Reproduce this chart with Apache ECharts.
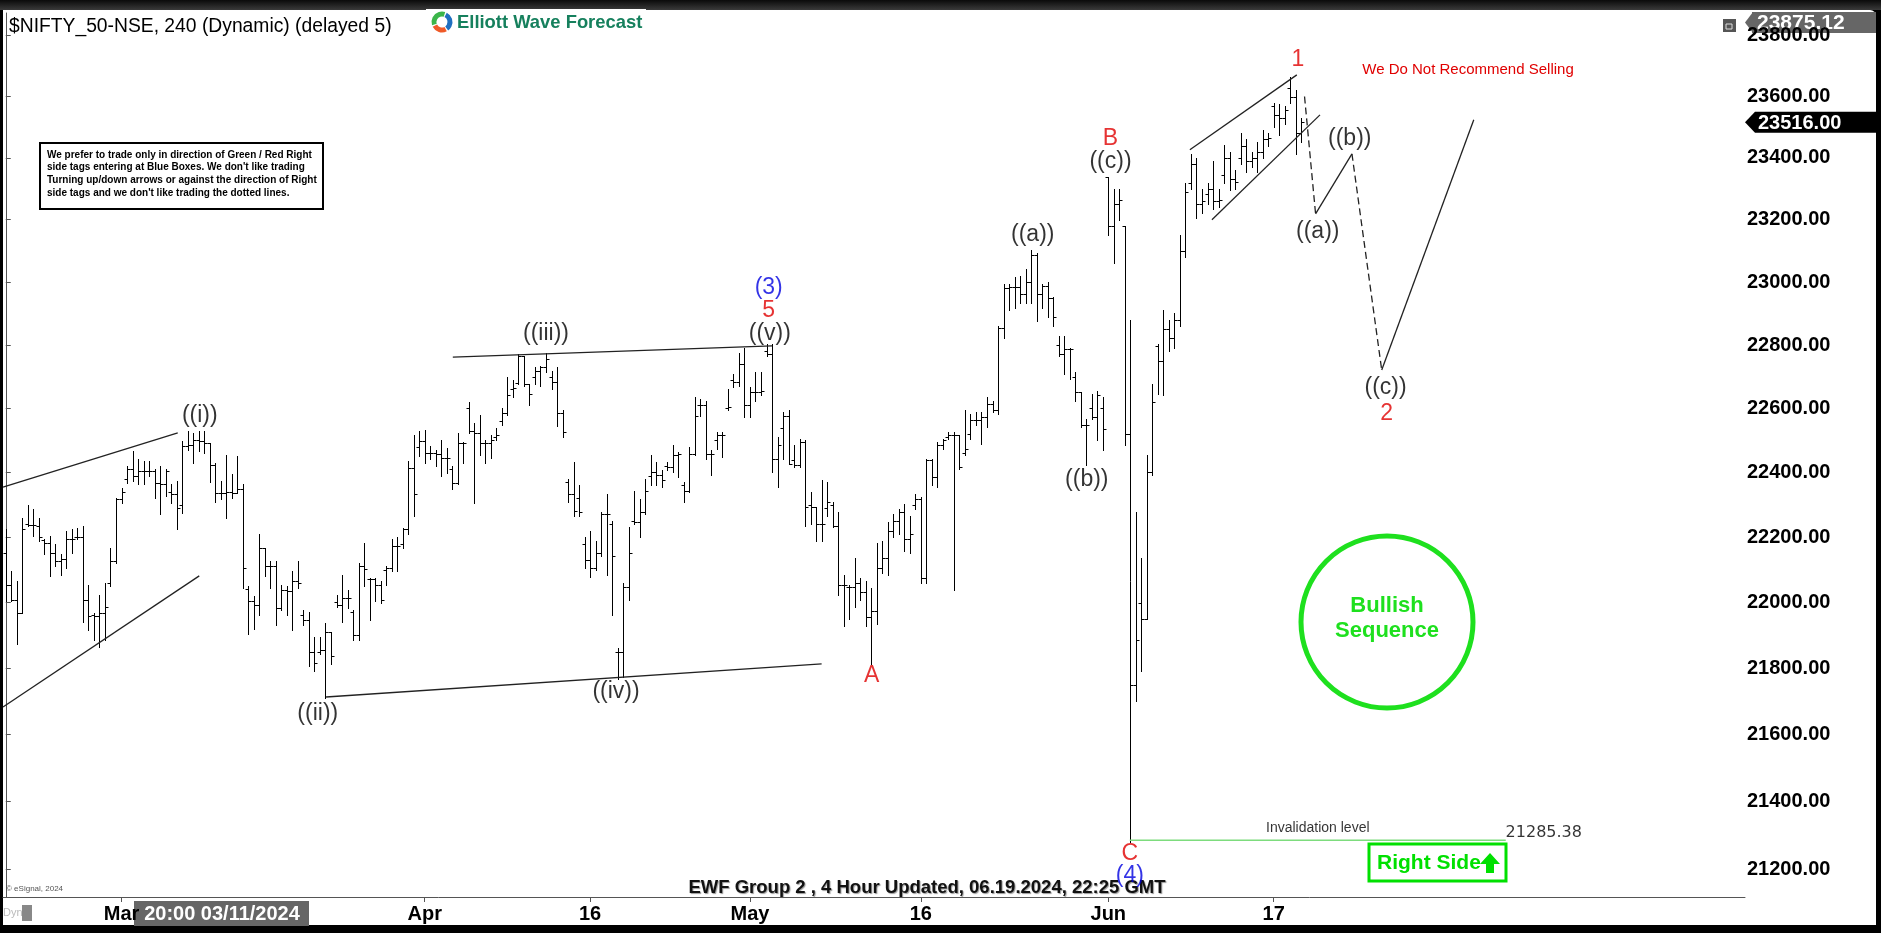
<!DOCTYPE html>
<html><head><meta charset="utf-8">
<script src="https://cdn.jsdelivr.net/npm/echarts@6/dist/echarts.min.js"></script>
<style>html,body{margin:0;padding:0;background:#000;overflow:hidden}#c{width:1881px;height:933px}</style>
</head><body><div id="c"></div>
<script>
// ---- 4-hour OHLC bars of $NIFTY_50-NSE ----
const barOpen = [22150,22054,22008,21967,22240,22237,22235,22190,22183,22150,22126,22134,22195,22200,22202,22008,21960,21957,21967,22060,
22126,22317,22380,22410,22389,22405,22405,22405,22369,22365,22340,22332,22300,22482,22487,22502,22497,22492,22425,22338,
22338,22340,22338,22348,22040,22003,21993,22168,22111,22111,21982,22039,22034,22065,21960,21946,21848,21850,21854,21910,
22000,21993,22013,21970,21900,22111,22070,22070,22054,22100,22106,22173,22180,22224,22415,22480,22497,22461,22461,22459,
22446,22410,22369,22492,22600,22528,22523,22492,22492,22510,22560,22585,22660,22680,22765,22678,22700,22719,22729,22700,
22683,22585,22370,22334,22320,22180,22131,22105,22152,22272,22240,21850,21850,22048,22250,22246,22277,22390,22402,22391,
22420,22417,22454,22360,22344,22459,22610,22612,22459,22500,22518,22600,22690,22684,22740,22610,22651,22651,22780,22771,
22443,22540,22578,22440,22422,22495,22300,22292,22240,22290,22300,22235,22053,22048,22048,22058,22032,21954,21975,22105,
22136,22220,22251,22277,22194,22300,22318,22074,22438,22386,22485,22510,22516,22516,22460,22520,22563,22563,22573,22615,
22594,22854,22980,22984,22984,22963,23000,23088,22963,22989,22950,22800,22771,22786,22700,22651,22547,22600,22573,22600,
23337,23180,23250,23179,22520,21750,21997,21950,22402,22798,22750,22850,22821,22880,23100,23319,23380,23250,23283,23300,
23260,23344,23400,23330,23400,23440,23390,23399,23420,23460,23570,23540,23530,23629,23600,23480];
const barHigh = [22224,22096,22065,22260,22298,22288,22260,22193,22204,22178,22147,22219,22224,22229,22235,22054,21967,22023,22060,22168,
22322,22353,22420,22466,22443,22435,22435,22410,22420,22410,22363,22374,22497,22528,22523,22528,22528,22492,22430,22374,
22456,22394,22451,22363,22049,22018,22209,22168,22126,22126,22054,22049,22096,22126,21977,21972,21895,21895,21936,21910,
22023,22085,22039,21977,22121,22183,22075,22075,22065,22111,22193,22199,22229,22435,22518,22528,22533,22482,22471,22502,
22477,22420,22523,22495,22621,22554,22580,22502,22518,22538,22600,22698,22688,22770,22765,22678,22729,22734,22775,22719,
22729,22594,22381,22433,22360,22199,22220,22189,22277,22334,22251,21861,22058,22230,22344,22318,22381,22454,22433,22407,
22433,22485,22464,22370,22480,22636,22630,22625,22469,22526,22526,22662,22708,22776,22792,22667,22714,22714,22802,22802,
22511,22589,22594,22485,22505,22500,22339,22292,22376,22370,22308,22277,22084,22053,22136,22074,22064,22043,22183,22189,
22246,22272,22287,22303,22266,22334,22324,22443,22443,22495,22505,22526,22526,22516,22594,22584,22589,22589,22636,22625,
22859,22994,22994,23015,23020,23041,23104,23093,22994,23000,22953,22828,22828,22792,22714,22651,22568,22646,22656,22636,
23338,23300,23300,23179,22880,22277,22136,22454,22677,22802,22910,22880,22900,23150,23320,23411,23400,23300,23320,23389,
23300,23441,23420,23360,23481,23460,23420,23450,23490,23480,23579,23575,23570,23664,23620,23530];
const barLow = [22003,22003,21874,21967,22235,22204,22188,22147,22080,22111,22085,22106,22152,22193,21941,21915,21885,21864,21885,22049,
22121,22307,22369,22374,22363,22363,22389,22322,22271,22327,22307,22224,22276,22471,22430,22466,22461,22371,22309,22317,
22260,22322,22335,22044,21905,21920,21962,22080,22044,21931,21977,21962,21915,22044,21931,21807,21792,21843,21709,21812,
21987,21941,21982,21885,21885,22049,21946,22003,21998,22054,22096,22096,22168,22209,22266,22451,22430,22441,22420,22389,
22399,22348,22363,22430,22523,22307,22456,22430,22446,22502,22549,22580,22636,22678,22672,22611,22678,22672,22714,22662,
22544,22511,22308,22266,22266,22105,22079,22100,22142,22084,21960,21767,21772,22006,22240,22199,22270,22360,22360,22355,
22407,22402,22386,22308,22339,22455,22578,22443,22391,22474,22448,22594,22667,22672,22573,22573,22625,22641,22766,22402,
22355,22443,22428,22417,22417,22235,22240,22188,22188,22266,22230,22022,21928,21949,21986,22006,21928,21814,21934,22090,
22084,22199,22209,22157,22152,22287,22058,22058,22360,22355,22474,22505,22037,22412,22454,22505,22547,22490,22542,22589,
22584,22823,22911,22916,22932,22932,22932,22875,22916,22890,22859,22766,22708,22693,22625,22542,22422,22568,22500,22469,
23150,23062,23200,22485,21281,21700,21791,21950,22391,22646,22642,22780,22789,22860,23080,23300,23206,23220,23250,23234,
23240,23320,23295,23300,23380,23354,23370,23353,23400,23440,23500,23473,23510,23580,23412,23450];
const barClose = [22054,22008,21967,22224,22237,22237,22200,22183,22152,22126,22132,22195,22195,22202,22008,21957,21957,21967,21987,22126,
22317,22340,22410,22389,22405,22405,22405,22369,22365,22405,22332,22291,22482,22487,22502,22497,22492,22425,22338,22338,
22340,22338,22348,22106,22003,21993,22168,22111,22111,21982,22039,22034,22065,22060,21946,21848,21817,21854,21910,21838,
21993,22013,22013,21900,22111,22101,22070,22054,22008,22106,22173,22173,22224,22415,22332,22497,22461,22461,22459,22446,
22446,22369,22492,22492,22528,22523,22492,22492,22502,22518,22585,22641,22665,22765,22678,22647,22719,22729,22755,22683,
22585,22526,22334,22280,22277,22131,22105,22152,22272,22272,22142,21850,22048,22152,22246,22277,22344,22402,22391,22376,
22417,22454,22459,22344,22459,22578,22612,22459,22459,22518,22518,22604,22684,22740,22610,22651,22651,22656,22771,22443,
22485,22578,22428,22422,22495,22292,22292,22240,22240,22308,22235,22053,22053,22048,22058,22032,21954,21975,22105,22136,
22220,22251,22277,22194,22209,22318,22074,22438,22386,22485,22500,22516,22516,22417,22474,22563,22563,22573,22615,22594,
22854,22980,22984,22984,22963,23000,23088,22963,22989,22950,22890,22771,22786,22786,22651,22547,22547,22573,22641,22537,
23180,23250,23264,22520,21750,21884,21950,22402,22620,22750,22850,22821,22880,23100,23290,23380,23250,23259,23300,23260,
23264,23400,23330,23322,23440,23390,23398,23420,23460,23465,23540,23530,23557,23600,23480,23516];

// ---- axis ticks ----
const yTickValues = [21200,21400,21600,21800,22000,22200,22400,22600,22800,23000,23200,23400,23600,23800];
const xTickIndex = [21,76,106,135,166,200,230];
const xTickLabels = ['Mar','Apr','16','May','16','Jun','17'];
const axisTop = 23875.12, axisBottom = 21118.6, lastPrice = 23516.00;
const invalidation = 21285.38;

// ---- Elliott wave annotations (bar index, price) ----
const waveText = [
  ['((i))',35.2,22577,'#000'],['((ii))',56.6,21662,'#000'],['((iii))',98.0,22835,'#000'],
  ['((iv))',110.7,21728,'#000'],['((v))',138.6,22835,'#000'],['5',138.4,22908,'#e00000'],
  ['(3)',138.4,22981,'#0000e0'],['A',157.1,21776,'#e00000'],['((a))',186.3,23151,'#000'],
  ['((b))',196.1,22377,'#000'],['B',200.4,23462,'#e00000'],['((c))',200.4,23387,'#000'],
  ['C',203.9,21245,'#e00000'],['(4)',203.9,21180,'#0000e0'],['1',234.4,23721,'#e00000'],
  ['((a))',238.0,23161,'#000'],['((b))',243.8,23462,'#000'],['((c))',250.3,22665,'#000'],['2',250.5,22583,'#e00000']
];
const trendLines = [
  [[-0.5,22355],[31.2,22524]], [[-0.5,21683],[35.1,22081]],
  [[81.1,22762],[139.0,22797]], [[58.1,21713],[148.0,21813]],
  [[214.8,23426],[234.2,23671]], [[218.8,23200],[238.4,23540]]
];
const projSolid = [ [[237.6,23219],[244.2,23413]], [[249.6,22721],[266.3,23524]] ];
const projDashed = [ [[235.6,23600],[237.6,23219]], [[244.2,23413],[249.6,22721]] ];
const invalidSpan = [203.9, 272.1];

const FONT = '"Liberation Sans", Arial, sans-serif';
const chart = echarts.init(document.getElementById('c'), null, {renderer:'canvas'});

const ohlc = barOpen.map((o,i)=>[i,o,barHigh[i],barLow[i],barClose[i]]);

function renderOHLC(params, api){
  const x = api.value(0);
  const pO = api.coord([x, api.value(1)]);
  const pH = api.coord([x, api.value(2)]);
  const pL = api.coord([x, api.value(3)]);
  const pC = api.coord([x, api.value(4)]);
  const cx = Math.round(pH[0]) + 0.5;
  const st = {stroke:'#000', lineWidth:1};
  const yo = Math.round(pO[1]) + 0.5, yc = Math.round(pC[1]) + 0.5;
  return {type:'group', children:[
    {type:'line', shape:{x1:cx,y1:Math.round(pH[1]),x2:cx,y2:Math.round(pL[1])+1}, style:st},
    {type:'line', shape:{x1:cx-3,y1:yo,x2:cx,y2:yo}, style:st},
    {type:'line', shape:{x1:cx,y1:yc,x2:cx+3,y2:yc}, style:st}
  ]};
}

const series = [{
  type:'custom', renderItem:renderOHLC, data:ohlc, encode:{x:0,y:[1,2,3,4]}, clip:false, silent:true
}];
trendLines.forEach(l=>series.push({type:'line', data:l, symbol:'none', silent:true, lineStyle:{color:'#222', width:1.3}}));
projSolid.forEach(l=>series.push({type:'line', data:l, symbol:'none', silent:true, lineStyle:{color:'#222', width:1.3}}));
projDashed.forEach(l=>series.push({type:'line', data:l, symbol:'none', silent:true, lineStyle:{color:'#222', width:1.3, type:[7,4]}}));
series.push({type:'line', data:[[invalidSpan[0],invalidation],[invalidSpan[1],invalidation]], symbol:'none', silent:true, lineStyle:{color:'#7ddc7d', width:1.5}});
const TRANSP = {color:'rgba(0,0,0,0)'};
series.push({type:'scatter', symbolSize:2, itemStyle:TRANSP, silent:true, z:5,
  data: waveText.map(w=>({value:[w[1],w[2]], label:{show:true, position:'inside', formatter:w[0], color:w[3], fontSize:23, fontFamily:FONT}}))
});
series.push({type:'scatter', symbolSize:2, itemStyle:TRANSP, silent:true, z:5,
  data:[
    {value:[238.0,21322], label:{show:true, position:'inside', formatter:'Invalidation level', color:'#000', fontSize:14, fontFamily:FONT}},
    {value:[279.0,21306], label:{show:true, position:'inside', formatter:invalidation.toFixed(2), color:'#000', fontSize:16, fontFamily:'"DejaVu Sans", sans-serif'}}
  ]});

const option = {
  animation:false,
  backgroundColor:'#000',
  grid:{left:3, right:136, top:13, bottom:36, show:false},
  xAxis:{type:'value', min:-0.5, max:315.5,
    axisLine:{show:true, onZero:false, lineStyle:{color:'#555', width:1}},
    axisTick:{show:true, length:5, customValues:xTickIndex, lineStyle:{color:'#555'}},
    axisLabel:{customValues:xTickIndex, margin:7, color:'#000', fontWeight:'bold', fontSize:20, fontFamily:FONT,
      formatter:v=>xTickLabels[xTickIndex.indexOf(Math.round(v))]},
    splitLine:{show:false}},
  yAxis:{type:'log', logBase:10, min:axisBottom, max:axisTop, position:'right',
    axisLine:{show:true, lineStyle:{color:'#555', width:1}},
    axisTick:{show:true, length:5, customValues:yTickValues, lineStyle:{color:'#555'}},
    axisLabel:{customValues:yTickValues, margin:2, color:'#000', fontWeight:'bold', fontSize:20, fontFamily:FONT,
      formatter:v=>Number(v).toFixed(2)},
    splitLine:{show:false}},
  series:series
};

// static decorations (frame, title, boxes)
const G = [];
G.push({type:'rect', z:-10, shape:{x:3,y:10,width:1873,height:915,r:[0,6,0,0]}, style:{fill:'#fff'}});
G.push({type:'rect', z:-9, shape:{x:0,y:0,width:1881,height:10}, style:{fill:new echarts.graphic.LinearGradient(0,0,0,1,[{offset:0,color:'#0a0a0a'},{offset:1,color:'#3a3a3a'}])}});
G.push({type:'text', style:{text:'$NIFTY_50-NSE, 240 (Dynamic) (delayed 5)', x:9, y:27, font:'19.3px '+FONT, fill:'#000', textVerticalAlign:'middle'}});
G.push({type:'rect', shape:{x:426,y:9,width:220,height:27}, style:{fill:'#fff'}});
G.push({type:'arc', shape:{cx:442,cy:22,r:8,startAngle:Math.PI*0.9,endAngle:Math.PI*1.6}, style:{stroke:'#3bb54a',lineWidth:5,fill:null}});
G.push({type:'arc', shape:{cx:442,cy:22,r:8,startAngle:Math.PI*1.65,endAngle:Math.PI*2.3}, style:{stroke:'#1f6fc0',lineWidth:5,fill:null}});
G.push({type:'arc', shape:{cx:442,cy:22,r:8,startAngle:Math.PI*0.35,endAngle:Math.PI*0.85}, style:{stroke:'#ef5a28',lineWidth:5,fill:null}});
G.push({type:'text', style:{text:'Elliott Wave Forecast', x:457, y:23, font:'bold 18.4px '+FONT, fill:'#16805d', textVerticalAlign:'middle'}});
G.push({type:'rect', shape:{x:40,y:143,width:283,height:66}, style:{fill:'#fff', stroke:'#000', lineWidth:2}});
['We prefer to trade only in direction of Green / Red Right','side tags entering at Blue Boxes. We don\'t like trading','Turning up/down arrows or against the direction of Right','side tags and we don\'t like trading the dotted lines.']
 .forEach((t,k)=>G.push({type:'text', style:{text:t, x:47, y:155+k*12.7, font:'bold 10px "Liberation Sans Narrow", "Liberation Sans", Arial', fill:'#000', textVerticalAlign:'middle'}}));
G.push({type:'text', style:{text:'We Do Not Recommend Selling', x:1468, y:70, font:'15px '+FONT, fill:'#e00000', textAlign:'center', textVerticalAlign:'middle'}});
G.push({type:'circle', shape:{cx:1387,cy:622,r:86}, style:{fill:null, stroke:'#1ee01e', lineWidth:5}});
G.push({type:'text', style:{text:'Bullish', x:1387, y:606, font:'bold 22px '+FONT, fill:'#1ee01e', textAlign:'center', textVerticalAlign:'middle'}});
G.push({type:'text', style:{text:'Sequence', x:1387, y:631, font:'bold 22px '+FONT, fill:'#1ee01e', textAlign:'center', textVerticalAlign:'middle'}});
G.push({type:'rect', shape:{x:1369,y:844,width:137,height:37}, style:{fill:'#fff', stroke:'#00e000', lineWidth:3}});
G.push({type:'text', style:{text:'Right Side', x:1377, y:863, font:'bold 21px '+FONT, fill:'#00e000', textVerticalAlign:'middle'}});
G.push({type:'polygon', shape:{points:[[1490,853],[1500,864],[1494,864],[1494,873],[1486,873],[1486,864],[1480,864]]}, style:{fill:'#00e000'}});
G.push({type:'text', style:{text:'EWF Group 2 , 4 Hour Updated, 06.19.2024, 22:25 GMT', x:927, y:888, font:'bold 18.5px '+FONT, fill:'#111', textAlign:'center', textVerticalAlign:'middle', textShadowColor:'#999', textShadowOffsetX:1, textShadowOffsetY:1, textShadowBlur:1}});
G.push({type:'text', style:{text:'\u00a9 eSignal, 2024', x:6, y:889, font:'8px '+FONT, fill:'#555', textVerticalAlign:'middle'}});
G.push({type:'text', style:{text:'Dyn', x:3, y:913, font:'11px '+FONT, fill:'#bbb', textVerticalAlign:'middle'}});
G.push({type:'rect', shape:{x:22,y:905,width:10,height:16}, style:{fill:'#888'}});
G.push({type:'rect', shape:{x:134,y:901,width:175,height:25}, style:{fill:'#666'}});
G.push({type:'text', style:{text:'20:00 03/11/2024', x:222, y:914, font:'bold 20px '+FONT, fill:'#fff', textAlign:'center', textVerticalAlign:'middle'}});
G.push({type:'rect', shape:{x:1723,y:19,width:13,height:13}, style:{fill:'#555'}});
G.push({type:'rect', shape:{x:1726,y:24,width:6,height:5}, style:{fill:null, stroke:'#ddd', lineWidth:1}});

chart.setOption(option);

function tag(price, bg, text){
  const y = chart.convertToPixel({yAxisIndex:0}, price);
  return [
    {type:'polygon', shape:{points:[[1745,y],[1755,y-10.5],[1876,y-10.5],[1876,y+10.5],[1755,y+10.5]]}, style:{fill:bg}},
    {type:'text', style:{text:text, x:1758, y:y+1, font:'bold 20px '+FONT, fill:'#fff', textVerticalAlign:'middle'}}
  ];
}
const topY = chart.convertToPixel({yAxisIndex:0}, axisTop);
G.push({type:'rect', shape:{x:1752,y:topY-1,width:124,height:21}, style:{fill:'#666'}});
G.push({type:'polygon', shape:{points:[[1745,topY+9.5],[1753,topY-1],[1753,topY+20]]}, style:{fill:'#666'}});
G.push({type:'text', style:{text:axisTop.toFixed(2), x:1757, y:topY+10, font:'bold 21px '+FONT, fill:'#fff', textVerticalAlign:'middle'}});
tag(lastPrice, '#000', lastPrice.toFixed(2)).forEach(e=>G.push(e));
chart.setOption({graphic:{elements:G}});
</script></body></html>
